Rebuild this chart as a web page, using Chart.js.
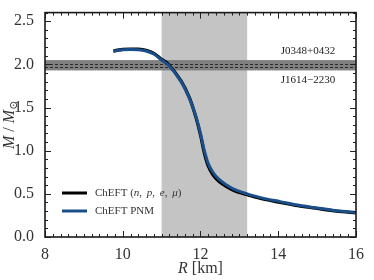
<!DOCTYPE html>
<html>
<head>
<meta charset="utf-8">
<script src="https://cdn.jsdelivr.net/npm/chart.js@4/dist/chart.umd.min.js"></script>
<style>
  html, body { margin: 0; padding: 0; background: #fff; }
  #wrap { width: 374px; height: 280px; }
</style>
</head>
<body>
<div id="wrap"><canvas id="mr"></canvas></div>
<script>
// radius [km] and mass [M_sun]
const radius = [9.76, 9.9, 10.0, 10.2, 10.4, 10.6, 10.8, 11.0, 11.17, 11.5, 11.72, 11.88, 12.0, 12.1, 12.2, 12.32, 12.47, 12.68, 12.9, 13.2, 13.6, 14.05, 14.5, 15.0, 15.5, 16.0];
const massPNM = [2.15, 2.163, 2.17, 2.173, 2.17, 2.155, 2.12, 2.05, 1.995, 1.8, 1.6, 1.4, 1.2, 1.0, 0.85, 0.75, 0.67, 0.6, 0.545, 0.5, 0.45, 0.41, 0.37, 0.335, 0.305, 0.285];
const massNPEM = [2.155, 2.168, 2.175, 2.178, 2.176, 2.162, 2.128, 2.058, 2.005, 1.81, 1.61, 1.39, 1.18, 0.97, 0.82, 0.72, 0.645, 0.58, 0.53, 0.49, 0.44, 0.4, 0.362, 0.33, 0.3, 0.28];
const xTicks = [8, 10, 12, 14, 16];
const yTicks = [0, 0.5, 1.0, 1.5, 2.0, 2.5];
const radiusBand = [11.0, 13.2];
const pulsars = [
  { name: 'J0348+0432', m: 2.01, dm: 0.04 },
  { name: 'J1614\u22122230', m: 1.97, dm: 0.04 }
];

const serif = '"Liberation Serif", "DejaVu Serif", serif';

const pts = (ys) => radius.map((r, i) => ({ x: r, y: ys[i] }));

const decor = {
  id: 'decor',
  beforeDatasetsDraw(chart) {
    const { ctx, chartArea: a, scales: { x, y } } = chart;
    ctx.save();
    // radius constraint band
    ctx.fillStyle = '#c4c4c4';
    const x0 = x.getPixelForValue(radiusBand[0]), x1 = x.getPixelForValue(radiusBand[1]);
    ctx.fillRect(x0, a.top, x1 - x0, a.bottom - a.top);
    // pulsar mass band
    const lo = Math.min(...pulsars.map(p => p.m - p.dm));
    const hi = Math.max(...pulsars.map(p => p.m + p.dm));
    ctx.fillStyle = '#808080';
    ctx.fillRect(a.left, y.getPixelForValue(hi), a.right - a.left, y.getPixelForValue(lo) - y.getPixelForValue(hi));
    ctx.strokeStyle = '#2a2a2a';
    ctx.lineWidth = 1;
    ctx.setLineDash([3, 2]);
    pulsars.forEach(p => {
      const py = Math.round(y.getPixelForValue(p.m)) + 0.5;
      ctx.beginPath(); ctx.moveTo(a.left, py); ctx.lineTo(a.right, py); ctx.stroke();
    });
    ctx.setLineDash([]);
    ctx.fillStyle = '#222';
    ctx.font = '11px ' + serif;
    ctx.textAlign = 'center';
    ctx.textBaseline = 'middle';
    ctx.fillText(pulsars[0].name, 308, y.getPixelForValue(2.01) - 12);
    ctx.fillText(pulsars[1].name, 308, y.getPixelForValue(1.97) + 13);
    ctx.restore();
  },
  afterDraw(chart) {
    const { ctx, chartArea: a, scales: { x, y } } = chart;
    ctx.save();
    // ticks on all four sides
    ctx.strokeStyle = '#222';
    ctx.lineWidth = 1;
    ctx.beginPath();
    for (let v = 8; v <= 16.001; v += 0.2) {
      const px = Math.round(x.getPixelForValue(v)) + 0.5;
      const major = Math.abs(v / 2 - Math.round(v / 2)) < 0.01;
      const len = major ? 6 : 3;
      ctx.moveTo(px, a.bottom); ctx.lineTo(px, a.bottom - len);
      ctx.moveTo(px, a.top); ctx.lineTo(px, a.top + len);
    }
    for (let v = 0; v <= 2.6001; v += 0.1) {
      const py = Math.round(y.getPixelForValue(v)) + 0.5;
      const major = Math.abs(v / 0.5 - Math.round(v / 0.5)) < 0.01;
      const len = major ? 6 : 3;
      ctx.moveTo(a.left, py); ctx.lineTo(a.left + len, py);
      ctx.moveTo(a.right, py); ctx.lineTo(a.right - len, py);
    }
    ctx.stroke();
    // frame
    ctx.lineWidth = 1.6;
    ctx.strokeStyle = '#1a1a1a';
    ctx.strokeRect(a.left, a.top, a.right - a.left, a.bottom - a.top);

    // axis titles
    ctx.fillStyle = '#333';
    ctx.textBaseline = 'alphabetic';
    // x title: R [km]
    const t1 = 'R', t2 = ' [km]';
    ctx.font = 'italic 16px ' + serif; const w1 = ctx.measureText(t1).width;
    ctx.font = '16px ' + serif; const w2 = ctx.measureText(t2).width;
    let sx = (a.left + a.right) / 2 - (w1 + w2) / 2;
    ctx.font = 'italic 16px ' + serif; ctx.fillText(t1, sx, 273);
    ctx.font = '16px ' + serif; ctx.fillText(t2, sx + w1, 273);
    // y title: M / M_sun
    ctx.translate(14, (a.top + a.bottom) / 2);
    ctx.rotate(-Math.PI / 2);
    const parts = [
      { t: 'M', f: 'italic 16px ' + serif, dy: 0 },
      { t: ' / ', f: '16px ' + serif, dy: 0 },
      { t: 'M', f: 'italic 16px ' + serif, dy: 0 },
      { t: '\u2299', f: '11px ' + serif, dy: 3 }
    ];
    let tw = 0;
    parts.forEach(p => { ctx.font = p.f; p.w = ctx.measureText(p.t).width; tw += p.w; });
    let cx = -tw / 2;
    parts.forEach(p => { ctx.font = p.f; ctx.fillText(p.t, cx, p.dy); cx += p.w; });
    ctx.restore();

    // legend
    ctx.save();
    const legend = [
      { c: '#000000', parts: [['ChEFT (', ''], ['n', 'i'], [', ', ''], ['p', 'i'], [', ', ''], ['e', 'i'], [', ', ''], ['\u03bc', 'i'], [')', '']] },
      { c: '#1b4f8a', parts: [['ChEFT PNM', '']] }
    ];
    legend.forEach((l, k) => {
      const ly = 193 + k * 18;
      ctx.strokeStyle = l.c; ctx.lineWidth = 3;
      ctx.beginPath(); ctx.moveTo(62, ly); ctx.lineTo(87, ly); ctx.stroke();
      ctx.fillStyle = '#333';
      ctx.textBaseline = 'middle';
      let lx = 95;
      l.parts.forEach(([t, s]) => {
        ctx.font = (s ? 'italic ' : '') + '11px ' + serif;
        ctx.fillText(t, lx, ly);
        lx += ctx.measureText(t).width + (t === ', ' ? 2 : 0);
      });
    });
    ctx.restore();
  }
};

new Chart(document.getElementById('mr'), {
  type: 'scatter',
  data: {
    datasets: [
      { label: 'ChEFT PNM', data: pts(massPNM), order: 0, showLine: true, borderColor: '#1b4f8a', borderWidth: 3, pointRadius: 0, tension: 0.3 },
      { label: 'ChEFT (n, p, e, \u03bc)', data: pts(massNPEM), order: 1, showLine: true, borderColor: '#000000', borderWidth: 3.2, pointRadius: 0, tension: 0.3 }
    ]
  },
  options: {
    responsive: true,
    maintainAspectRatio: false,
    animation: false,
    layout: { padding: { top: 5, right: 18, left: 0, bottom: 0 } },
    plugins: { legend: { display: false }, tooltip: { enabled: false } },
    scales: {
      x: {
        type: 'linear', min: 8, max: 16,
        grid: { display: false }, border: { display: false },
        afterBuildTicks: (s) => { s.ticks = xTicks.map(v => ({ value: v })); },
        afterFit: (s) => { s.height = 43; },
        ticks: { color: '#333', font: { family: serif, size: 16 }, padding: 0, maxRotation: 0, callback: (v) => String(v) }
      },
      y: {
        type: 'linear', min: 0, max: 2.6,
        grid: { display: false }, border: { display: false },
        afterBuildTicks: (s) => { s.ticks = yTicks.map(v => ({ value: v })); },
        afterFit: (s) => { s.width = 45; },
        ticks: { color: '#333', font: { family: serif, size: 16 }, padding: 3, callback: (v) => Number(v).toFixed(1) }
      }
    }
  },
  plugins: [decor]
});
</script>
</body>
</html>
